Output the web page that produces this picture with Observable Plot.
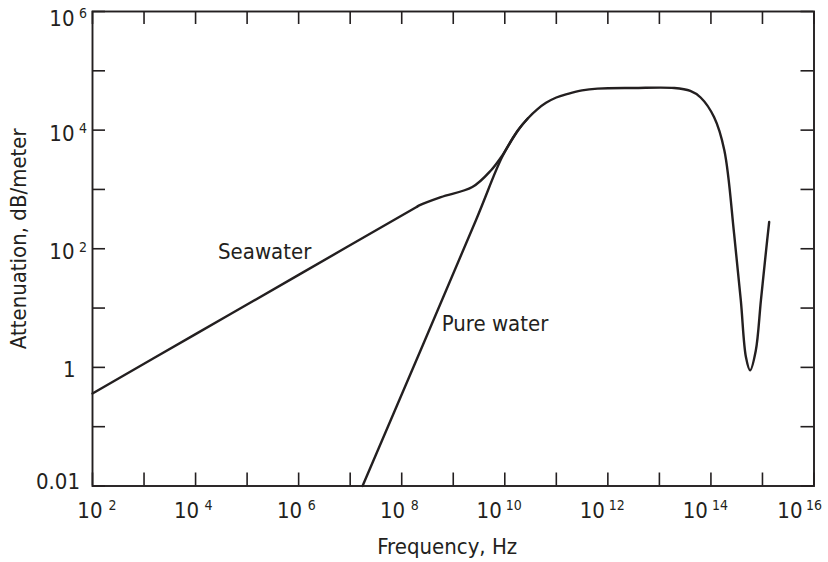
<!DOCTYPE html>
<html><head><meta charset="utf-8">
<script src="https://cdn.jsdelivr.net/npm/d3@7"></script>
<script src="https://cdn.jsdelivr.net/npm/@observablehq/plot@0.6"></script>
<style>
html,body{margin:0;padding:0;background:#fff;}
#chart svg{display:block;}
</style></head><body><div id="chart"></div>
<script>
// ---- data (powers of ten) ----
const seawaterFreqExp  = [2, 4, 6, 8.28, 8.34, 8.76, 9.37, 9.73, 9.95, 10.25, 10.45, 10.63, 10.8, 11.0, 11.22, 11.5, 11.8, 12.5, 13.29, 13.6, 13.8, 14.06, 14.26, 14.45, 14.58, 14.68, 14.76, 14.87, 14.97, 15.07, 15.13];
const seawaterAttenExp = [-0.44, 0.56, 1.56, 2.70, 2.73, 2.87, 3.04, 3.32, 3.57, 3.99, 4.20, 4.35, 4.46, 4.55, 4.61, 4.67, 4.70, 4.71, 4.71, 4.66, 4.55, 4.22, 3.66, 2.25, 1.13, 0.17, -0.05, 0.28, 1.13, 1.97, 2.45];
const pureFreqExp  = [7.24, 9.44, 9.95, 10.25, 10.45];
const pureAttenExp = [-2, 2.48, 3.55, 3.99, 4.20];

const xTickExps = [2,3,4,5,6,7,8,9,10,11,12,13,14,15,16];
const yTickExps = [-2,-1,0,1,2,3,4,5,6];
const xLabelExps = [2,4,6,8,10,12,14,16];
const yLabelValues = [1e-2, 1, 1e2, 1e4, 1e6];
const yLabelBase = ["0.01", "1", "10", "10", "10"];
const yLabelExp  = ["", "", "2", "4", "6"];

const xTitle = "Frequency, Hz";
const yTitle = "Attenuation, dB/meter";
const seriesLabels = [
  {name: "Seawater",   fx: 5.34, ay: 1.94},
  {name: "Pure water", fx: 9.81, ay: 0.74}
];

// ---- build ----
const seawater = seawaterFreqExp.map((e, i) => ({f: 10 ** e, a: 10 ** seawaterAttenExp[i]}));
const pure = pureFreqExp.map((e, i) => ({f: 10 ** e, a: 10 ** pureAttenExp[i]}));

const W = 828, H = 562, mL = 92, mR = 14.5, mT = 11, mB = 76.5;
const iW = W - mL - mR, iH = H - mT - mB;
const ink = "#231f20";
const FONT = "'Liberation Sans Narrow', 'Arial Narrow', 'DejaVu Sans Condensed', sans-serif";
const TICK = 13;
const FS = 22, FSX = 14;

const xLab = (exps, dBase, dExp) => [
  Plot.text(exps, {x: e => 10 ** e, text: () => "10", frameAnchor: "bottom", textAnchor: "end", lineAnchor: "middle", dx: dBase, dy: 24.5, fontSize: FS, fill: ink}),
  Plot.text(exps, {x: e => 10 ** e, text: e => String(e), frameAnchor: "bottom", textAnchor: "start", lineAnchor: "middle", dx: dExp, dy: 20, fontSize: FSX, fill: ink})
];
const pick = (vals) => yLabelValues.map((v, i) => ({v, b: yLabelBase[i], e: yLabelExp[i]})).filter(d => vals.includes(d.v));
const yLab = (vals, dBaseX, dBaseY) => [
  Plot.text(pick(vals), {y: d => d.v, text: d => d.b, frameAnchor: "left", textAnchor: "end", lineAnchor: "middle", dx: dBaseX, dy: dBaseY, fontSize: FS, fill: ink}),
  Plot.text(pick(vals).filter(d => d.e), {y: d => d.v, text: d => d.e, frameAnchor: "left", textAnchor: "start", lineAnchor: "middle", dx: -13.5, dy: dBaseY - 5, fontSize: FSX, fill: ink})
];

const chart = Plot.plot({
  width: W, height: H,
  marginLeft: mL, marginRight: mR, marginTop: mT, marginBottom: mB,
  style: {fontFamily: FONT, color: ink, background: "#fff"},
  x: {type: "log", domain: [1e2, 1e16], axis: null},
  y: {type: "log", domain: [1e-2, 1e6], axis: null},
  marks: [
    // inward ticks
    Plot.ruleX(xTickExps, {x: e => 10 ** e, insetTop: iH - TICK, stroke: ink, strokeWidth: 1.6}),
    Plot.ruleX(xTickExps, {x: e => 10 ** e, insetBottom: iH - TICK, stroke: ink, strokeWidth: 1.6}),
    Plot.ruleY(yTickExps, {y: e => 10 ** e, insetRight: iW - TICK, stroke: ink, strokeWidth: 1.6}),
    Plot.ruleY(yTickExps, {y: e => 10 ** e, insetLeft: iW - TICK, stroke: ink, strokeWidth: 1.6}),
    Plot.frame({stroke: ink, strokeWidth: 1.9}),
    // curves
    Plot.line(pure, {x: "f", y: "a", curve: "catmull-rom", stroke: ink, strokeWidth: 2.4}),
    Plot.line(seawater, {x: "f", y: "a", curve: "catmull-rom", stroke: ink, strokeWidth: 2.4}),
    // tick labels
    ...xLab([2], 10, 16),
    ...xLab([4, 6, 8], 3.5, 9),
    ...xLab([10, 12, 14], -3, 1),
    ...xLab([16], -11.5, -8),
    ...yLab([1e6], -18, 7),
    ...yLab([1e4, 1e2], -18, 3.5),
    ...yLab([1], -17, 3),
    ...yLab([1e-2], -12.5, -4),
    // series labels
    Plot.text(seriesLabels, {x: d => 10 ** d.fx, y: d => 10 ** d.ay, text: "name", textAnchor: "middle", lineAnchor: "middle", fontSize: FS, fill: ink}),
    // axis titles
    Plot.text([xTitle], {frameAnchor: "bottom", textAnchor: "middle", lineAnchor: "middle", dx: -6, dy: 60.5, fontSize: FS, fill: ink}),
    Plot.text([yTitle], {frameAnchor: "left", textAnchor: "middle", lineAnchor: "middle", rotate: -90, dx: -74, dy: -10, fontSize: FS, fill: ink})
  ]
});
document.getElementById("chart").appendChild(chart);
</script></body></html>
